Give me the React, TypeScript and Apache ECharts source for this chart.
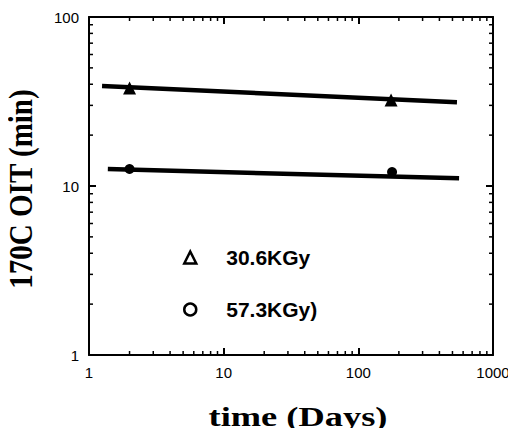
import React, { useEffect, useRef } from "react";
import * as echarts from "echarts";

const seriesNames = ["30.6KGy", "57.3KGy)"];
const triPoints: [number, number][] = [[2, 38.0], [175, 32.3]];
const circPoints: [number, number][] = [[2, 12.6], [178, 12.1]];
const triFit: [number, number][] = [[1.25, 39.0], [540, 31.3]];
const circFit: [number, number][] = [[1.38, 12.6], [560, 11.1]];
const minorX = [2, 3, 4, 5, 6, 7, 8, 9, 20, 30, 40, 50, 60, 70, 80, 90, 200, 300, 400, 500, 600, 700, 800, 900];
const minorY = [2, 3, 4, 5, 6, 7, 8, 9, 20, 30, 40, 50, 60, 70, 80, 90];
const xTitle = "time (Days)";
const yTitle = "170C OIT (min)";

export default function App() {
  const ref = useRef<HTMLDivElement>(null);
  useEffect(() => {
    const chart = echarts.init(ref.current!, null, { renderer: "svg" });
    const tickData: any[] = [
      ...minorX.map((v) => [v, 10, 0]),
      ...minorY.map((v) => [10, v, 1]),
    ];
    const labelFont = { fontFamily: "Liberation Sans", fontSize: 15, color: "#000", formatter: (v: number) => String(v) };
    const axisLine = { show: true, lineStyle: { color: "#000", width: 2 } };
    const majorTick = { show: true, inside: true, length: 7, lineStyle: { color: "#000", width: 2 } };
    chart.setOption({
      animation: false,
      backgroundColor: "#fff",
      grid: { left: 89, right: 23, top: 17, bottom: 81 },
      xAxis: [
        {
          type: "log", logBase: 10, min: 1, max: 1000, position: "bottom",
          axisLine, axisTick: majorTick,
          axisLabel: { ...labelFont, margin: 10 },
          splitLine: { show: false },
        },
        {
          type: "log", logBase: 10, min: 1, max: 1000, position: "top",
          axisLine, axisTick: majorTick,
          axisLabel: { show: false }, splitLine: { show: false },
        },
      ],
      yAxis: [
        {
          type: "log", logBase: 10, min: 1, max: 100, position: "left",
          axisLine, axisTick: majorTick,
          axisLabel: { ...labelFont, margin: 10 },
          splitLine: { show: false },
        },
        {
          type: "log", logBase: 10, min: 1, max: 100, position: "right",
          axisLine, axisTick: majorTick,
          axisLabel: { show: false }, splitLine: { show: false },
        },
      ],
      legend: {
        orient: "vertical", left: 183, top: 247, itemWidth: 12, itemHeight: 12, itemGap: 31,
        padding: 0,
        textStyle: { fontFamily: "Liberation Sans", fontWeight: "bold", fontSize: 21, color: "#000", padding: [0, 0, 0, 25] },
        data: [
          { name: seriesNames[0], icon: "triangle", itemStyle: { color: "#fff", borderColor: "#000", borderWidth: 2.5, opacity: 1 } },
          { name: seriesNames[1], icon: "circle", itemStyle: { color: "#fff", borderColor: "#000", borderWidth: 2.5, opacity: 1 } },
        ],
      },
      series: [
        {
          name: seriesNames[0], type: "scatter", data: triPoints, symbol: "triangle", symbolSize: 13,
          itemStyle: { color: "#000", opacity: 1 }, z: 5,
        },
        {
          name: seriesNames[1], type: "scatter", data: circPoints, symbol: "circle", symbolSize: 10,
          itemStyle: { color: "#000", opacity: 1 }, z: 5,
        },
        {
          name: "fit1", type: "line", data: triFit, showSymbol: false, symbol: "none",
          lineStyle: { color: "#000", width: 4.5 }, z: 4,
        },
        {
          name: "fit2", type: "line", data: circFit, showSymbol: false, symbol: "none",
          lineStyle: { color: "#000", width: 4.5 }, z: 4,
        },
        {
          name: "minorTicks", type: "custom", data: tickData, silent: true, clip: false,
          renderItem: (params: any, api: any) => {
            const cs = params.coordSys;
            const v = api.value(0), w = api.value(1), side = api.value(2);
            const len = 4;
            const style = { stroke: "#000", lineWidth: 1.5 };
            if (side === 0) {
              const px = api.coord([v, 10])[0];
              return {
                type: "group",
                children: [
                  { type: "line", shape: { x1: px, y1: cs.y + cs.height, x2: px, y2: cs.y + cs.height - len }, style },
                  { type: "line", shape: { x1: px, y1: cs.y, x2: px, y2: cs.y + len }, style },
                ],
              };
            }
            const py = api.coord([10, w])[1];
            return {
              type: "group",
              children: [
                { type: "line", shape: { x1: cs.x, y1: py, x2: cs.x + len, y2: py }, style },
                { type: "line", shape: { x1: cs.x + cs.width, y1: py, x2: cs.x + cs.width - len, y2: py }, style },
              ],
            };
          },
        },
      ],
      graphic: [
        {
          type: "text", x: 298, y: 417, scaleX: 1.3,
          style: { text: xTitle, font: "bold 28px 'Liberation Serif'", fill: "#000", textAlign: "center", textVerticalAlign: "middle" },
        },
        {
          type: "text", x: 21, y: 189, rotation: Math.PI / 2, scaleY: 1.15,
          style: { text: yTitle, font: "bold 29px 'Liberation Serif'", fill: "#000", textAlign: "center", textVerticalAlign: "middle" },
        },
      ],
    });
    return () => chart.dispose();
  }, []);
  return <div ref={ref} style={{ width: 516, height: 436, margin: -8 }} />;
}
